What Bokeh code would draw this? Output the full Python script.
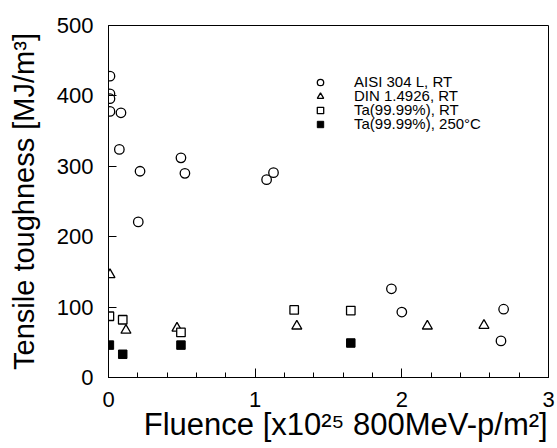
from bokeh.plotting import figure
from bokeh.models import Range1d, FixedTicker, Legend, LegendItem
from bokeh.embed import file_html
from bokeh.resources import INLINE

# ---- data ----
aisi_x = [0.01, 0.01, 0.01, 0.01, 0.085, 0.074, 0.215, 0.203, 0.494, 0.521, 1.078, 1.125, 1.929, 2.0, 2.694, 2.676]
aisi_y = [428, 403, 396, 378, 376, 324, 293, 221, 312, 290, 281, 291, 126, 93, 97, 52]

din_x = [0.01, 0.119, 0.467, 1.284, 2.174, 2.56]
din_y = [146, 67, 70, 73, 73, 74]

ta_rt_x = [0.006, 0.097, 0.494, 1.266, 1.652]
ta_rt_y = [87, 82, 64, 96, 95]

ta_250_x = [0.006, 0.097, 0.494, 1.652]
ta_250_y = [46, 33, 46, 49]

labels = ["AISI 304 L, RT", "DIN 1.4926, RT", "Ta(99.99%), RT", "Ta(99.99%), 250\u00b0C"]
x_ticks = [0, 1, 2, 3]
y_ticks = [0, 100, 200, 300, 400, 500]
x_title = "Fluence [x10\u00b2\u2075 800MeV-p/m\u00b2]"
y_title = "Tensile toughness [MJ/m\u00b3]"

FONT = "Liberation Sans"

p = figure(width=557, height=448, output_backend="svg", toolbar_location=None,
           x_range=Range1d(0, 3), y_range=Range1d(0, 500),
           min_border_left=108, min_border_right=9, min_border_top=25, min_border_bottom=71)

p.background_fill_color = "white"
p.border_fill_color = "white"
p.outline_line_color = "black"
p.outline_line_width = 1
p.xgrid.visible = False
p.ygrid.visible = False

# x axis (leading no-break spaces nudge the centred title to the right, as in the reference)
xa = p.xaxis[0]
xa.ticker = FixedTicker(ticks=x_ticks, minor_ticks=[i / 5 for i in range(16)])
xa.axis_label = "\u00a0\u00a0\u00a0\u00a0" + x_title
xa.axis_label_text_font = FONT
xa.axis_label_text_font_size = "31px"
xa.axis_label_text_font_style = "normal"
xa.axis_label_text_color = "black"
xa.axis_label_standoff = -3
xa.major_label_text_font = FONT
xa.major_label_text_font_size = "22px"
xa.major_label_text_color = "black"
xa.major_label_standoff = 14
xa.major_tick_in = 9
xa.major_tick_out = 0
xa.minor_tick_in = 5
xa.minor_tick_out = 0
xa.axis_line_color = "black"
xa.major_tick_line_color = "black"
xa.minor_tick_line_color = "black"

# y axis
ya = p.yaxis[0]
ya.ticker = FixedTicker(ticks=y_ticks)
ya.axis_label = y_title
ya.axis_label_text_font = FONT
ya.axis_label_text_font_size = "29px"
ya.axis_label_text_font_style = "normal"
ya.axis_label_text_color = "black"
ya.axis_label_standoff = 14
ya.major_label_text_font = FONT
ya.major_label_text_font_size = "22px"
ya.major_label_text_color = "black"
ya.major_label_standoff = 15
ya.major_tick_in = 8
ya.major_tick_out = 0
ya.minor_tick_line_color = None
ya.axis_line_color = "black"
ya.major_tick_line_color = "black"

r1 = p.scatter(aisi_x, aisi_y, marker="circle", size=9.5, fill_color="white",
               line_color="black", line_width=1.3)
r2 = p.scatter(din_x, din_y, marker="triangle", size=10, fill_color="white",
               line_color="black", line_width=1.3)
r3 = p.scatter(ta_rt_x, ta_rt_y, marker="square", size=8.5, fill_color="white",
               line_color="black", line_width=1.3)
r4 = p.scatter(ta_250_x, ta_250_y, marker="square", size=8.5, fill_color="black",
               line_color="black", line_width=1)

# one single-row legend per series, so that rows can sit as tightly as in the reference
legend_bottoms = [287, 273, 259, 245]
for lab, rend, vy in zip(labels, [r1, r2, r3, r4], legend_bottoms):
    lg = Legend(items=[LegendItem(label=lab, renderers=[rend])],
                location=(204, vy), orientation="vertical",
                label_text_font=FONT, label_text_font_size="15px",
                label_text_color="black",
                label_height=13, glyph_height=16, glyph_width=16,
                label_standoff=26, spacing=0, padding=0, margin=0,
                border_line_color=None, background_fill_alpha=0)
    p.add_layout(lg)

open("out.html", "w").write(file_html(p, INLINE))
